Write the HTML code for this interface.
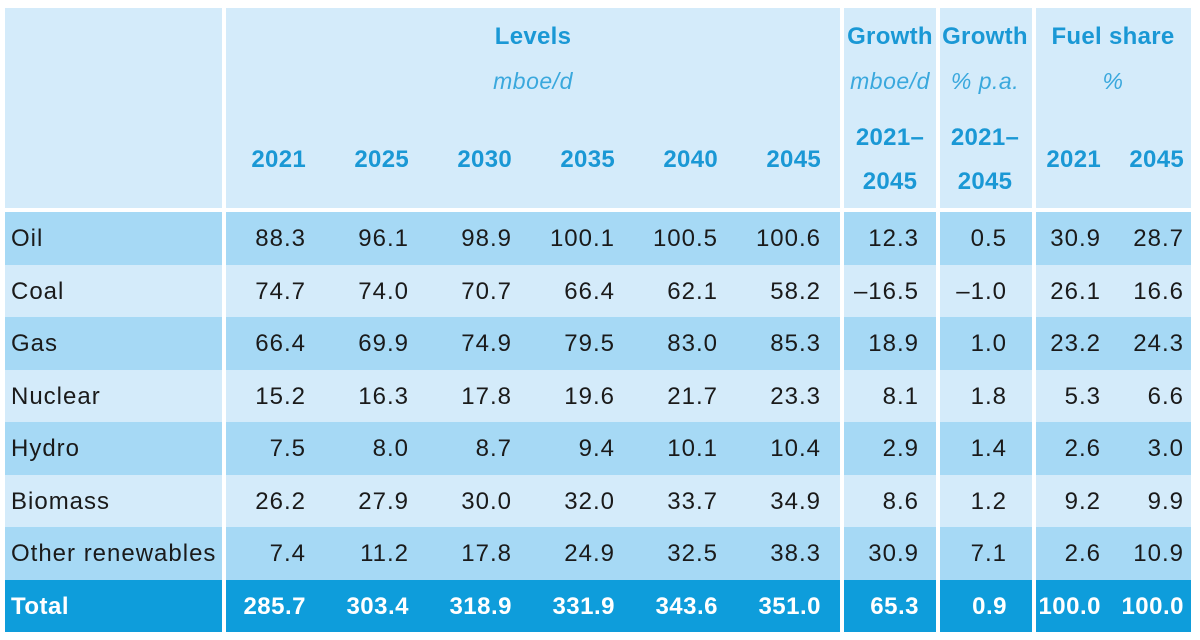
<!DOCTYPE html>
<html><head><meta charset="utf-8"><style>
body{margin:0;width:1200px;height:640px;background:#fff;font-family:"Liberation Sans",sans-serif;position:relative;overflow:hidden}
.c{position:absolute;box-sizing:border-box}
.t{position:absolute;font-size:24px;white-space:nowrap;line-height:1;letter-spacing:1px}
.h{color:#1a98d5;font-weight:bold;letter-spacing:0.3px}
.u{color:#3aa8dd;font-style:italic;font-size:23px;letter-spacing:0.5px}
</style></head><body>
<div id="root"></div>
<script>
const fuels=["Oil","Coal","Gas","Nuclear","Hydro","Biomass","Other renewables","Total"];
const lvl2021=["88.3","74.7","66.4","15.2","7.5","26.2","7.4","285.7"];
const lvl2025=["96.1","74.0","69.9","16.3","8.0","27.9","11.2","303.4"];
const lvl2030=["98.9","70.7","74.9","17.8","8.7","30.0","17.8","318.9"];
const lvl2035=["100.1","66.4","79.5","19.6","9.4","32.0","24.9","331.9"];
const lvl2040=["100.5","62.1","83.0","21.7","10.1","33.7","32.5","343.6"];
const lvl2045=["100.6","58.2","85.3","23.3","10.4","34.9","38.3","351.0"];
const growthAbs=["12.3","\u201316.5","18.9","8.1","2.9","8.6","30.9","65.3"];
const growthPct=["0.5","\u20131.0","1.0","1.8","1.4","1.2","7.1","0.9"];
const share2021=["30.9","26.1","23.2","5.3","2.6","9.2","2.6","100.0"];
const share2045=["28.7","16.6","24.3","6.6","3.0","9.9","10.9","100.0"];
const cols=[lvl2021,lvl2025,lvl2030,lvl2035,lvl2040,lvl2045,growthAbs,growthPct,share2021,share2045];
const colNames=["2021","2025","2030","2035","2040","2045","growth-mboe","growth-pct","share-2021","share-2045"];
const colRight=[305,408,511,614,717,820,918,1006,1100,1183];
const groups=[[5,222],[226,840],[844,936],[940,1032],[1036,1191]];
const root=document.getElementById('root');
function box(x,y,w,h,bg,name){const d=document.createElement('div');d.className='c';
d.style.cssText+=`left:${x}px;top:${y}px;width:${w}px;height:${h}px;background:${bg}`;


root.appendChild(d);return d;}
function txt(s,x,y,cls,align,name){const d=document.createElement('div');d.className='t '+(cls||'');d.textContent=s;
if(align==='r'){d.style.right=(1200-x-1)+'px';}else if(align==='c'){d.style.left=(x-200)+'px';d.style.width='400px';d.style.textAlign='center';}else d.style.left=x+'px';
d.style.top=(y-12)+'px';


root.appendChild(d);return d;}
groups.forEach((g,i)=>box(g[0],8,g[1]-g[0],200,'#d4ebfa','header-group-'+i));
txt("Levels",533,37,'h','c','levels-title');
txt("mboe/d",533,82,'u','c','levels-unit');
txt("Growth",890,37,'h','c','growth-abs-title');
txt("mboe/d",890,82,'u','c','growth-abs-unit');
txt("Growth",985,37,'h','c','growth-pct-title');
txt("% p.a.",985,82,'u','c','growth-pct-unit');
txt("Fuel share",1113,37,'h','c','fuel-share-title');
txt("%",1113,82,'u','c','fuel-share-unit');
["2021","2025","2030","2035","2040","2045"].forEach((y,i)=>txt(y,colRight[i],160,'h','r','year-header-'+y));
txt("2021\u2013",890,138,'h','c','growth-abs-period-start');txt("2045",890,182,'h','c','growth-abs-period-end');
txt("2021\u2013",985,138,'h','c','growth-pct-period-start');txt("2045",985,182,'h','c','growth-pct-period-end');
txt("2021",colRight[8],160,'h','r','share-header-2021');txt("2045",colRight[9],160,'h','r','share-header-2045');
const top0=212,rh=52.5;
fuels.forEach((f,r)=>{
 const y=top0+r*rh;const total=r===fuels.length-1;
 const bg=total?'#0e9ddb':(r%2===0?'#a6d9f5':'#d4ebfa');
 const key=f.toLowerCase().replace(/ /g,'-');
 groups.forEach((g,i)=>box(g[0],Math.round(y),g[1]-g[0],Math.round(y+rh)-Math.round(y),bg,'row-'+key+'-bg-'+i));
 const cy=y+rh/2+1;
 const l=txt(f,11,cy,'','l','row-label-'+key);
 if(total){l.style.color='#fff';l.style.fontWeight='bold';l.style.letterSpacing='0.5px';}else l.style.color='#1a1a1a';
 cols.forEach((c,i)=>{const t=txt(c[r],colRight[i],cy,'','r','cell-'+key+'-'+colNames[i]);
  if(total){t.style.color='#fff';t.style.fontWeight='bold';t.style.letterSpacing='0.5px';}else t.style.color='#1a1a1a';});
});
</script>
</body></html>
